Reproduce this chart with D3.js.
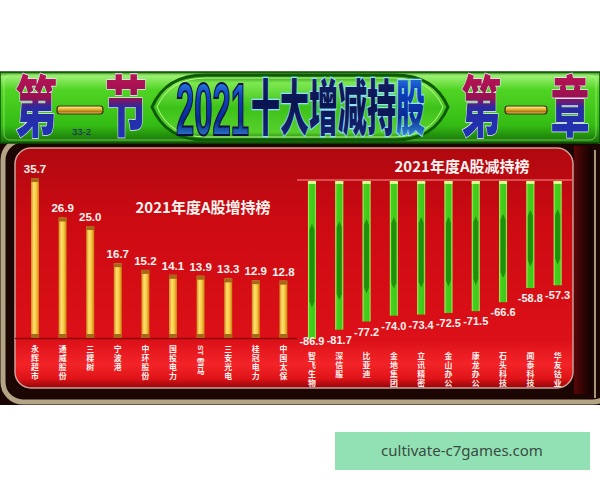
<!DOCTYPE html>
<html lang="zh-CN"><head><meta charset="utf-8">
<script src="https://cdn.jsdelivr.net/npm/d3@7"></script>
<style>html,body{margin:0;padding:0;background:#fff;}svg{display:block;}</style>
</head><body>
<script>
// ---- data ----
const incCats = ["永辉超市","通威股份","三棵树","宁波港","中环股份","国投电力","ST雪马","三安光电","桂冠电力","中国太保"];
const incVals = [35.7, 26.9, 25.0, 16.7, 15.2, 14.1, 13.9, 13.3, 12.9, 12.8];
const decCats = ["智飞生物","深信服","比亚迪","金地集团","立讯精密","金山办公","康龙办公","石头科技","闻泰科技","华友钴业"];
const decVals = [-86.9, -81.7, -77.2, -74.0, -73.4, -72.5, -71.5, -66.6, -58.8, -57.3];
const mainTitleNum = "2021";
const mainTitleCJK = "十大增减持股";
const incTitle = "2021年度A股增持榜";
const decTitle = "2021年度A股减持榜";
const leftTag = ["第","节"];
const rightTag = ["第","章"];
const subTag = "33-2";
const watermark = "cultivate-c7games.com";

const W = 600, H = 480;
const svg = d3.select("body").append("svg").attr("width", W).attr("height", H).attr("lang","zh-CN");
const defs = svg.append("defs");
function grad(id, stops, x2, y2) {
  const g = defs.append("linearGradient").attr("id", id)
    .attr("x1", 0).attr("y1", 0).attr("x2", x2 || 0).attr("y2", y2 === undefined ? 1 : y2);
  stops.forEach(s => g.append("stop").attr("offset", s[0]).attr("stop-color", s[1]));
}
grad("bannerG", [[0,"#2a8a10"],[0.06,"#9af070"],[0.25,"#50d424"],[0.75,"#34bc14"],[1,"#167008"]]);
grad("lensG", [[0,"#1e8a0c"],[0.12,"#7ee850"],[0.5,"#3cc218"],[0.88,"#58d02c"],[1,"#1a7a0a"]]);
grad("redG", [[0,"#b00810"],[0.3,"#cc0a12"],[0.8,"#dc1018"],[0.9,"#f22428"],[0.96,"#e01418"],[1,"#900608"]]);
grad("tagG", [[0,"#d01858"],[0.45,"#9a1050"],[0.55,"#2a2aa0"],[1,"#1838c0"]]);
grad("goldG", [[0,"#fff4b0"],[0.4,"#e8b830"],[0.7,"#b07818"],[1,"#f0d070"]]);
grad("numG", [[0,"#40b8ff"],[0.35,"#1040c0"],[0.65,"#0a2a90"],[1,"#50c8ff"]]);
grad("navyG", [[0,"#1a2a70"],[0.5,"#0a1450"],[1,"#1a2a80"]]);
grad("yBar", [[0,"#d08a18"],[0.35,"#ffe070"],[0.65,"#f8c840"],[1,"#c88010"]], 1, 0);
grad("gBar", [[0,"#b8ff70"],[0.2,"#46d01c"],[0.8,"#40c818"],[1,"#b0f868"]], 1, 0);
grad("rightStrip", [[0,"#5a0606"],[0.6,"#2a0404"],[1,"#120202"]], 1, 0);

// ---- frame ----
svg.append("rect").attr("x",0).attr("y",142).attr("width",600).attr("height",263).attr("fill","#1c0604");
svg.append("rect").attr("x",3).attr("y",140).attr("width",610).attr("height",262).attr("rx",20)
  .attr("fill","none").attr("stroke","#b4a486").attr("stroke-width",5);
svg.append("rect").attr("x",574).attr("y",146).attr("width",18).attr("height",248).attr("fill","url(#rightStrip)");
svg.append("line").attr("x1",595).attr("x2",595).attr("y1",150).attr("y2",398).attr("stroke","#a89478").attr("stroke-width",2);
svg.append("rect").attr("x",15).attr("y",148).attr("width",558).attr("height",240).attr("rx",16)
  .attr("fill","url(#redG)").attr("stroke","#d0a098").attr("stroke-width",1.5);

// ---- banner ----
svg.append("rect").attr("x",0).attr("y",72).attr("width",600).attr("height",71)
  .attr("fill","url(#bannerG)").attr("stroke","#0e4a06").attr("stroke-width",1.5);
svg.append("rect").attr("x",4).attr("y",75).attr("width",592).attr("height",65).attr("rx",6)
  .attr("fill","none").attr("stroke","#c8ffa0").attr("stroke-opacity",0.5).attr("stroke-width",1);
svg.append("path")
  .attr("d","M152,107 Q166,75 205,75 L395,75 Q434,75 448,107 Q434,140 395,140 L205,140 Q166,140 152,107 Z")
  .attr("fill","url(#lensG)").attr("stroke","#0f5a08").attr("stroke-width",3);
svg.append("path")
  .attr("d","M157,107 Q170,78 206,78 L394,78 Q430,78 443,107 Q430,137 394,137 L206,137 Q170,137 157,107 Z")
  .attr("fill","none").attr("stroke","#c0ff90").attr("stroke-width",1);

// tags (condensed via transform)
function tagChar(ch, cx, w) {
  svg.append("text").text(ch)
    .attr("transform", `translate(${cx},131) scale(${w/66},1)`)
    .attr("text-anchor","middle")
    .style("font-family","'Noto Sans CJK SC'").style("font-weight",900).style("font-size","66px")
    .attr("fill","url(#tagG)").attr("stroke","#e8e4ff").attr("stroke-width",1.5)
    .style("paint-order","stroke");
}
tagChar(leftTag[0], 36, 42); tagChar(leftTag[1], 126, 42);
tagChar(rightTag[0], 481, 40); tagChar(rightTag[1], 570, 39);
[[57,46],[505,42]].forEach(b => {
  svg.append("rect").attr("x",b[0]).attr("y",106).attr("width",b[1]).attr("height",8).attr("rx",3)
    .attr("fill","url(#goldG)").attr("stroke","#3a3008").attr("stroke-width",1.2);
});
svg.append("text").text(subTag).attr("x",72).attr("y",135)
  .style("font-family","'Liberation Sans',Arial").style("font-size","9.5px").attr("fill","#1a2060");

// main title (condensed via transform)
svg.append("text").text(mainTitleNum)
  .attr("transform","translate(176,135) scale(0.443,1)")
  .style("font-family","'Liberation Sans',Arial").style("font-weight","bold").style("font-size","74px")
  .attr("fill","url(#numG)").attr("stroke","#0a1040").attr("stroke-width",2);
const tt = svg.append("text")
  .attr("transform","translate(251,130) scale(0.483,1)")
  .style("font-family","'Noto Sans CJK SC'").style("font-weight",900).style("font-size","60px")
  .attr("stroke","#90e0ff").attr("stroke-width",2.5).style("paint-order","stroke");
tt.append("tspan").text(mainTitleCJK.slice(0,-1)).attr("fill","url(#navyG)");
tt.append("tspan").text(mainTitleCJK.slice(-1)).attr("fill","url(#numG)");

// ---- increase chart ----
const xL = d3.scaleBand().domain(incCats).range([21.2, 297.2]);
const yL = d3.scaleLinear().domain([0, 40]).range([338, 158.8]);
const bw = 8;
svg.append("line").attr("x1",15).attr("x2",297).attr("y1",yL(0)+0.5).attr("y2",yL(0)+0.5)
  .attr("stroke","#8a0408").attr("stroke-width",1.5);
const gL = svg.append("g");
incCats.forEach((c, i) => {
  const cx = xL(c) + xL.bandwidth()/2, v = incVals[i];
  const top = yL(v), bot = yL(0);
  gL.append("rect").attr("x",cx-bw/2).attr("y",top).attr("width",bw).attr("height",bot-top).attr("fill","url(#yBar)");
  gL.append("rect").attr("x",cx-bw/2).attr("y",top).attr("width",bw).attr("height",4).attr("fill","#a8661a");
  gL.append("rect").attr("x",cx-bw/2).attr("y",bot-4).attr("width",bw).attr("height",4).attr("fill","#a8661a");
  gL.append("text").text(v.toFixed(1)).attr("x",cx).attr("y",top-5).attr("text-anchor","middle")
    .style("font-family","'Liberation Sans',Arial").style("font-weight","bold").style("font-size","11.5px")
    .attr("fill","#fff4f0");
});
svg.append("text").text(incTitle).attr("x",203).attr("y",213).attr("text-anchor","middle")
  .style("font-family","'Noto Sans CJK SC'").style("font-weight","bold").style("font-size","15px").attr("fill","#fff4f0");

// ---- decrease chart ----
const xR = d3.scaleBand().domain(decCats).range([298.3, 571.3]);
const yR = d3.scaleLinear().domain([0, -100]).range([181, 363]);
svg.append("line").attr("x1",297).attr("x2",572).attr("y1",yR(0)-1).attr("y2",yR(0)-1)
  .attr("stroke","#ff9090").attr("stroke-width",1);
const gR = svg.append("g");
decCats.forEach((c, i) => {
  const cx = xR(c) + xR.bandwidth()/2, v = decVals[i];
  const top = yR(0), bot = yR(v), len = bot - top;
  gR.append("rect").attr("x",cx-bw/2).attr("y",top).attr("width",bw).attr("height",len).attr("fill","url(#gBar)");
  const a = top + len*0.27, b = bot - len*0.2;
  gR.append("path").attr("d",`M${cx},${a} L${cx+2.5},${a+6} L${cx+2.5},${b-6} L${cx},${b} L${cx-2.5},${b-6} L${cx-2.5},${a+6} Z`)
    .attr("fill","#20900c");
  gR.append("rect").attr("x",cx-bw/2).attr("y",top).attr("width",bw).attr("height",3).attr("fill","#d8ff90");
  gR.append("text").text(v.toFixed(1)).attr("x",cx).attr("y",Math.min(bot+14, 345)).attr("text-anchor","middle")
    .style("font-family","'Liberation Sans',Arial").style("font-weight","bold").style("font-size","11px")
    .attr("fill","#fff4f0");
});
svg.append("text").text(decTitle).attr("x",462).attr("y",172).attr("text-anchor","middle")
  .style("font-family","'Noto Sans CJK SC'").style("font-weight","bold").style("font-size","15px").attr("fill","#fff4f0");

// ---- vertical category labels (one text per character) ----
function vLabel(label, cx, y0) {
  const g = svg.append("g");
  let y = y0;
  const m = label.match(/^[A-Za-z*]+/);
  let rest = label;
  if (m) {
    const w = m[0].length * 5.5;
    g.append("text").text(m[0]).attr("transform",`translate(${cx-3},${y-4}) rotate(90)`)
      .style("font-family","'Liberation Sans',Arial").style("font-weight","bold").style("font-size","8px").attr("fill","#fff4f0");
    y += w + 2;
    rest = label.slice(m[0].length);
  }
  Array.from(rest).forEach(ch => {
    g.append("text").text(ch).attr("x",cx).attr("y",y+3).attr("text-anchor","middle")
      .style("font-family","'Liberation Sans','Noto Sans CJK SC'").style("font-weight","bold").style("font-size","7.9px")
      .attr("fill","#fff4f0");
    y += 9;
  });
}
incCats.forEach(c => vLabel(c, xL(c) + xL.bandwidth()/2, 349));
decCats.forEach(c => vLabel(c, xR(c) + xR.bandwidth()/2, 356));

// ---- watermark ----
svg.append("rect").attr("x",335).attr("y",432).attr("width",255).attr("height",38).attr("fill","#92e1b5");
svg.append("text").text(watermark).attr("x",462).attr("y",456).attr("text-anchor","middle")
  .style("font-family","'Noto Sans'").style("font-size","15px").attr("fill","#3b4a42");
</script>
</body></html>
